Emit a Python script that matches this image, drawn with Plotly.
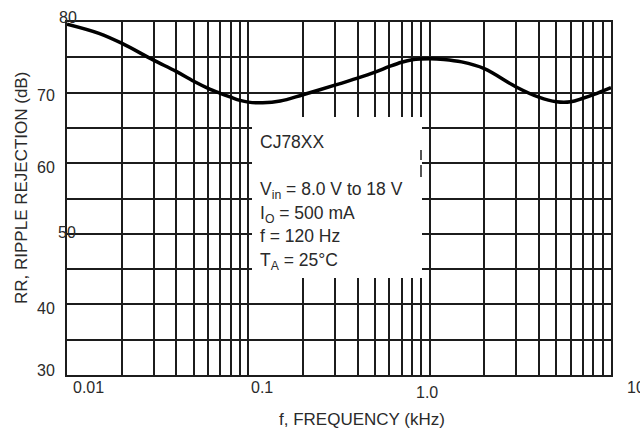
import plotly.graph_objects as go

# ---- data ----
freq_khz = [0.01, 0.015, 0.02, 0.03, 0.04, 0.05, 0.06, 0.07, 0.08, 0.09, 0.1, 0.12, 0.15, 0.2,
            0.3, 0.4, 0.5, 0.6, 0.7, 0.8, 1.0, 1.2, 1.5, 2.0, 3.0, 4.0, 5.0, 6.0, 7.0, 8.0, 10.0]
rr_db = [79.7, 78.4, 77.0, 74.6, 73.0, 71.6, 70.6, 69.9, 69.35, 68.9, 68.65, 68.55, 68.8, 69.7,
         71.05, 72.05, 72.9, 73.7, 74.3, 74.65, 74.8, 74.7, 74.35, 73.4, 70.8, 69.35, 68.7, 68.7,
         69.2, 69.7, 70.7]

xtick_labels = ["0.01", "0.1", "1.0", "10"]
ytick_labels = ["80", "70", "60", "50", "40", "30"]
decades = [0.01, 0.1, 1.0]
multipliers = [1, 2, 3, 4, 5, 6, 7, 8, 9]

conditions = ["CJ78XX", "V<sub>in</sub> = 8.0 V to 18 V", "I<sub>O</sub> = 500 mA",
              "f = 120 Hz", "T<sub>A</sub> = 25°C"]

FONT = "Liberation Sans, Arial, Helvetica, sans-serif"
INK = "#1c1c1c"
TXT = "#2a2a2a"

# plot box in pixels
L, R, T, B = 67, 611, 22, 375
W, H = 640, 434


def px(x):
    return (x - L) / (R - L)


def py(y):
    return (B - y) / (B - T)


grid_x = [d * m for d in decades for m in multipliers] + [10.0]

fig = go.Figure()
fig.add_trace(go.Scatter(x=freq_khz, y=rr_db, mode="lines",
                         line=dict(color="#000000", width=3.5, shape="spline", smoothing=1.0),
                         hoverinfo="skip", showlegend=False))

fig.update_xaxes(type="log", range=[-2, 1], tickvals=grid_x, showticklabels=False,
                 showgrid=True, gridcolor=INK, gridwidth=1.7, zeroline=False,
                 showline=True, mirror=True, linecolor=INK, linewidth=1.7, ticks="")
fig.update_yaxes(range=[30, 80], dtick=5, tick0=30, showticklabels=False,
                 showgrid=True, gridcolor=INK, gridwidth=1.7, zeroline=False,
                 showline=True, mirror=True, linecolor=INK, linewidth=1.7, ticks="")

shapes = [
    # white box behind the conditions text
    dict(type="rect", xref="paper", yref="paper", x0=px(252), x1=px(422), y0=py(278), y1=py(117),
         fillcolor="white", line=dict(width=0), layer="above"),
    # short stubs of the 0.9 line seen through the box
    dict(type="line", xref="paper", yref="paper", x0=px(421), x1=px(421), y0=py(150), y1=py(160),
         line=dict(color=INK, width=1.5), layer="above"),
    dict(type="line", xref="paper", yref="paper", x0=px(421), x1=px(421), y0=py(165), y1=py(177),
         line=dict(color=INK, width=1.5), layer="above"),
]

annotations = []
# x tick labels (positions as printed in the datasheet)
xlab_px = [(88, 387), (262, 387), (427, 392), (636, 387)]
for lab, (xp, ypp) in zip(xtick_labels, xlab_px):
    annotations.append(dict(text=lab, xref="paper", yref="paper", x=px(xp), y=py(ypp),
                            showarrow=False, xanchor="center", yanchor="middle",
                            font=dict(family=FONT, size=16, color=TXT)))
# y tick labels
ylab_px = [(68, 17), (46, 95), (46, 167), (67, 232), (46, 308), (46, 370)]
for lab, (xp, ypp) in zip(ytick_labels, ylab_px):
    annotations.append(dict(text=lab, xref="paper", yref="paper", x=px(xp), y=py(ypp),
                            showarrow=False, xanchor="center", yanchor="middle",
                            font=dict(family=FONT, size=16, color=TXT)))
# conditions text
cond_y = [142, 190, 214, 236, 261]
for txt, ypp in zip(conditions, cond_y):
    annotations.append(dict(text=txt, xref="paper", yref="paper", x=px(258), y=py(ypp),
                            showarrow=False, xanchor="left", yanchor="middle",
                            font=dict(family=FONT, size=17.5, color=TXT)))
# axis titles
annotations.append(dict(text="f, FREQUENCY (kHz)", xref="paper", yref="paper", x=px(362), y=py(420),
                        showarrow=False, xanchor="center", yanchor="middle",
                        font=dict(family=FONT, size=17, color=TXT)))
annotations.append(dict(text="RR, RIPPLE REJECTION (dB)", xref="paper", yref="paper", x=px(21), y=py(188),
                        showarrow=False, xanchor="center", yanchor="middle", textangle=-90,
                        font=dict(family=FONT, size=17, color=TXT)))

fig.update_layout(width=W, height=H, margin=dict(l=L, r=W - R, t=T, b=H - B),
                  paper_bgcolor="white", plot_bgcolor="white",
                  shapes=shapes, annotations=annotations, showlegend=False)

fig.write_html("out.html", config={"displayModeBar": False},
               post_script="document.body.style.margin='0';")
